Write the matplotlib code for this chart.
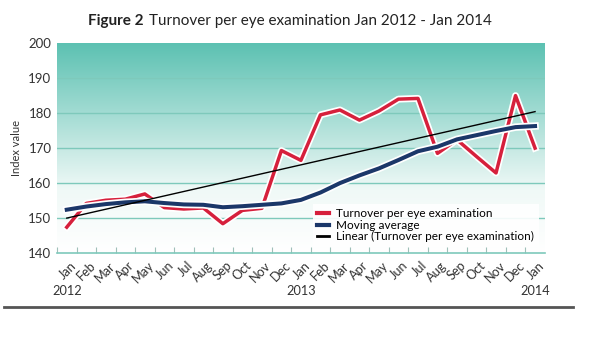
import numpy as np
import matplotlib
matplotlib.use("Agg")
import matplotlib.pyplot as plt
import matplotlib.patheffects as pe
from matplotlib.colors import LinearSegmentedColormap

# Donnees (index, Jan 2012 - Jan 2014)
months = ["Jan", "Feb", "Mar", "Apr", "May", "Jun", "Jul", "Aug", "Sep", "Oct", "Nov", "Dec",
          "Jan", "Feb", "Mar", "Apr", "May", "Jun", "Jul", "Aug", "Sep", "Oct", "Nov", "Dec", "Jan"]
years = {0: "2012", 12: "2013", 24: "2014"}

turnover = [147.4, 154.2, 155.1, 155.4, 156.9, 153.0, 152.6, 152.9, 148.4, 152.2, 152.8, 169.3,
            166.5, 179.5, 180.9, 178.0, 180.6, 184.0, 184.2, 168.5, 172.4, 167.6, 162.9, 185.0, 170.0]
moving_avg = [152.4, 153.3, 154.0, 154.5, 154.8, 154.3, 153.9, 153.8, 153.1, 153.4, 153.8, 154.2,
              155.2, 157.3, 160.0, 162.2, 164.2, 166.6, 169.1, 170.4, 172.5, 173.7, 174.9, 176.0, 176.3]

red = "#d6203c"
blue = "#1b3769"
teal = "#5cc1b2"

plt.rcParams["font.family"] = ["Lato", "DejaVu Sans"]

x = np.arange(len(months))
# tendance lineaire (comme Excel)
coef = np.polyfit(x, turnover, 1)
trend = np.polyval(coef, x)

fig = plt.figure(figsize=(6, 3.37), dpi=100)
ax = fig.add_axes([0.095, 0.249, 0.813, 0.623])

# fond en degrade
cmap = LinearSegmentedColormap.from_list("bg", [(0, "white"), (0.3, "#f0f9f7"), (1, teal)])
grad = np.linspace(0, 1, 256).reshape(-1, 1)
ax.imshow(grad, extent=[-0.5, 24.5, 140, 200], origin="lower", aspect="auto", cmap=cmap, zorder=0)

for v in range(150, 200, 10):
    ax.axhline(v, color="#7ec9bb", lw=1, zorder=1)

outline = [pe.Stroke(linewidth=5, foreground="white"), pe.Normal()]
outline2 = [pe.Stroke(linewidth=5.4, foreground="white"), pe.Normal()]
ax.plot(x, turnover, color=red, lw=2.5, zorder=3, path_effects=outline,
        label="Turnover per eye examination")
ax.plot(x, moving_avg, color=blue, lw=2.9, zorder=4, path_effects=outline2,
        label="Moving average")
ax.plot(x, trend, color="black", lw=1, zorder=5, label="Linear (Turnover per eye examination)")

ax.set_xlim(-0.5, 24.5)
ax.set_ylim(140, 200)
ax.set_yticks(range(140, 201, 10))
ax.tick_params(axis="y", length=0, labelsize=9.5, colors="#333333", pad=4)

ax.set_xticks(x - 0.5, minor=False)
ax.set_xticklabels([])
ax.tick_params(axis="x", direction="in", length=4, color="#9fbfb8")
for i, m in enumerate(months):
    ax.text(i + 0.15, 138.2, m, rotation=45, ha="right", va="top", fontsize=9.2,
            color="#333333", rotation_mode="anchor")
for i, yr in years.items():
    ax.text(i, 130.8, yr, ha="center", va="top", fontsize=9.2, color="#333333")

for s in ["top", "right", "left"]:
    ax.spines[s].set_visible(False)
ax.spines["bottom"].set_color("#7ec9bb")
ax.spines["bottom"].set_linewidth(1.2)

leg = ax.legend(loc="lower right", bbox_to_anchor=(1.0, 0.0), fontsize=8.5, frameon=True,
                handlelength=1.0, handletextpad=0.6, labelspacing=0.05, borderpad=0.4,
                fancybox=False, edgecolor="none", framealpha=0.9)
for h in leg.get_lines():
    h.set_linewidth(3)
    h.set_path_effects([])
leg.get_lines()[2].set_linewidth(2)

fig.text(0.027, 0.56, "Index value", rotation=90, fontsize=8, color="#333333",
         ha="center", va="center")

t1 = fig.text(0.147, 0.937, "Figure 2", fontsize=11, fontweight="bold", color="#222222", va="center")
fig.canvas.draw()
ax.annotate("Turnover per eye examination Jan 2012 - Jan 2014", xy=(1, 0.5), xycoords=t1,
            xytext=(3.5, 0), textcoords="offset points", va="center", ha="left",
            fontsize=11, color="#222222", annotation_clip=False)

fig.add_artist(plt.Line2D([0.007, 0.955], [0.089, 0.089], color="#555555", lw=2))

fig.savefig("out.png", dpi=100, facecolor="white")
